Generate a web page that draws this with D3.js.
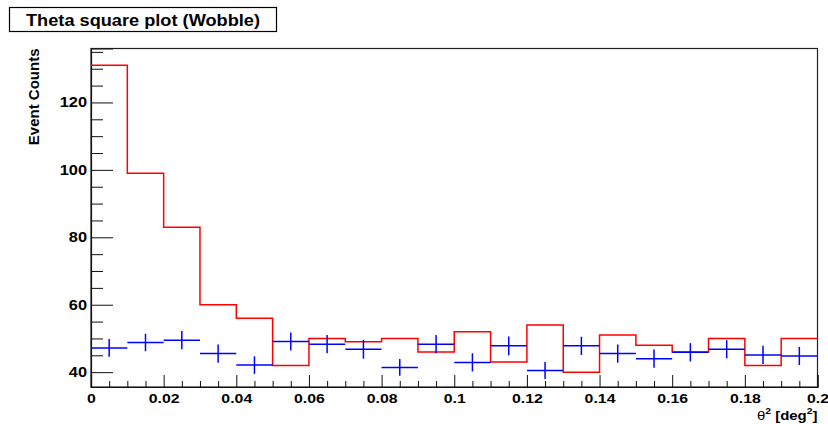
<!DOCTYPE html>
<html>
<head>
<meta charset="utf-8">
<script src="https://cdn.jsdelivr.net/npm/d3@7"></script>
<style>
  html, body { margin: 0; padding: 0; background: #fff; }
  svg { display: block; }
  text { font-family: "Liberation Sans", Arial, Helvetica, sans-serif; font-weight: bold; fill: #000; }
</style>
</head>
<body>
<svg id="chart" width="828" height="424"></svg>
<script>
// Theta-squared distribution: ON counts (histogram) and normalised OFF counts (points with errors)
const titleText = "Theta square plot (Wobble)";
const yTitle = "Event Counts";

const binStart = [0, 0.01, 0.02, 0.03, 0.04, 0.05, 0.06, 0.07, 0.08, 0.09,
                  0.10, 0.11, 0.12, 0.13, 0.14, 0.15, 0.16, 0.17, 0.18, 0.19];
const binWidth = 0.01;

const onCounts = [131, 99, 83, 60, 56, 42, 50, 49, 50, 46,
                  52, 43, 54, 40, 51, 48, 46, 50, 42, 50];

const offCounts = [47.2, 48.8, 49.5, 45.5, 42.1, 49.1, 48.3, 46.8, 41.4, 48.3,
                   42.9, 47.8, 40.5, 47.8, 45.5, 44.0, 45.9, 46.8, 45.1, 44.8];
const offErrors = [2.6, 2.6, 2.7, 2.7, 2.6, 2.7, 2.7, 2.8, 2.5, 2.7,
                   2.7, 2.8, 2.5, 2.7, 2.7, 2.7, 2.7, 2.7, 2.7, 2.7];

const xTicks = [0, 0.02, 0.04, 0.06, 0.08, 0.1, 0.12, 0.14, 0.16, 0.18, 0.2];
const xTickLabels = ["0", "0.02", "0.04", "0.06", "0.08", "0.1", "0.12", "0.14", "0.16", "0.18", "0.2"];
const yTicks = [40, 60, 80, 100, 120];
const yTickLabels = ["40", "60", "80", "100", "120"];

const frame = { left: 91, right: 817.5, top: 48.5, bottom: 387 };

const svg = d3.select("#chart");

const x = d3.scaleLinear().domain([0, 0.2]).range([frame.left, frame.right]);
const y = d3.scaleLinear().domain([35.6, 136]).range([frame.bottom, frame.top]);

// frame
svg.append("rect")
  .attr("x", frame.left).attr("y", frame.top)
  .attr("width", frame.right - frame.left).attr("height", frame.bottom - frame.top)
  .attr("fill", "#fff").attr("stroke", "#222").attr("stroke-width", 1.2);

// minor ticks
const yMinor = d3.range(45, 136, 5).filter(v => v % 20 !== 0);
const xMinor = d3.range(0, 41).map(i => i * 0.005).filter((v, i) => i % 4 !== 0);

const gAxes = svg.append("g");

gAxes.append("g").attr("transform", `translate(${frame.left},0)`)
  .call(d3.axisLeft(y).tickValues(yMinor).tickSize(-12).tickFormat(""))
  .call(g => g.select(".domain").remove());

gAxes.append("g").attr("transform", `translate(0,${frame.bottom})`)
  .call(d3.axisBottom(x).tickValues(xMinor).tickSize(-6).tickFormat(""))
  .call(g => g.select(".domain").remove());

// major ticks and labels
const yAxis = gAxes.append("g").attr("transform", `translate(${frame.left},0)`)
  .call(d3.axisLeft(y).tickValues(yTicks).tickSize(-22).tickPadding(4)
    .tickFormat((d, i) => yTickLabels[i]));
yAxis.selectAll("text")
  .attr("font-size", 14)
  .attr("transform", "scale(1.17,1)")
  .attr("x", -4 / 1.17);

const xAxis = gAxes.append("g").attr("transform", `translate(0,${frame.bottom})`)
  .call(d3.axisBottom(x).tickValues(xTicks).tickSize(-12).tickPadding(7)
    .tickFormat((d, i) => xTickLabels[i]));
xAxis.selectAll("text")
  .attr("font-size", 13)
  .attr("transform", "scale(1.22,1)");

gAxes.selectAll(".tick line").attr("stroke", "#111").attr("stroke-width", 1);
gAxes.selectAll(".domain").attr("stroke", "#111").attr("stroke-width", 1.2);
gAxes.selectAll("text").attr("font-family", null).attr("fill", "#000");

// ON histogram (step outline)
const stepPts = binStart.map((b, i) => [b, onCounts[i]]);
stepPts.push([binStart[binStart.length - 1] + binWidth, onCounts[onCounts.length - 1]]);

svg.append("path")
  .datum(stepPts)
  .attr("fill", "none")
  .attr("stroke", "#ff0000")
  .attr("stroke-width", 1.5)
  .attr("d", d3.line().x(d => x(d[0])).y(d => y(d[1])).curve(d3.curveStepAfter));

// OFF points with bin-width bars and vertical error bars
const off = svg.append("g").attr("stroke", "#0000ff").attr("stroke-width", 1.5);
binStart.forEach((b, i) => {
  off.append("line")
    .attr("x1", x(b)).attr("x2", x(b + binWidth))
    .attr("y1", y(offCounts[i])).attr("y2", y(offCounts[i]));
  off.append("line")
    .attr("x1", x(b + binWidth / 2)).attr("x2", x(b + binWidth / 2))
    .attr("y1", y(offCounts[i] - offErrors[i])).attr("y2", y(offCounts[i] + offErrors[i]));
});

// axis titles
svg.append("text")
  .attr("transform", `translate(38.5,${frame.top}) rotate(-90)`)
  .attr("text-anchor", "end")
  .attr("font-size", 15)
  .text(yTitle);

const xt = svg.append("text")
  .attr("transform", `translate(${frame.right},420) scale(1.15,1)`)
  .attr("text-anchor", "end")
  .attr("font-size", 13);
xt.append("tspan").attr("font-weight", "normal").text("\u03b8");
xt.append("tspan").attr("font-size", 9).attr("dy", -6).text("2");
xt.append("tspan").attr("dy", 6).text(" [deg");
xt.append("tspan").attr("font-size", 9).attr("dy", -6).text("2");
xt.append("tspan").attr("dy", 6).text("]");

// title box
svg.append("rect")
  .attr("x", 9.5).attr("y", 7.5).attr("width", 267).attr("height", 24)
  .attr("fill", "#fff").attr("stroke", "#000").attr("stroke-width", 1.2);
svg.append("text")
  .attr("transform", "translate(143,25.5) scale(1.07,1)")
  .attr("text-anchor", "middle")
  .attr("font-size", 17)
  .text(titleText);
</script>
</body>
</html>
